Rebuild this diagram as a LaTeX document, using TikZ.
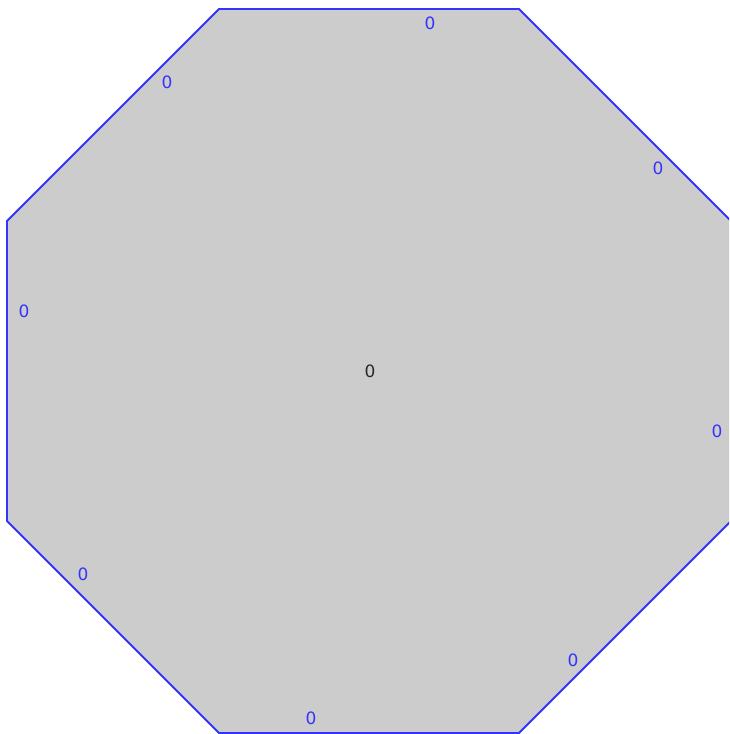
\documentclass[tikz,border=0pt]{standalone}
\usepackage{fontspec}
\setmainfont{DejaVu Sans}
\usepackage{tikz}
\usetikzlibrary{positioning, calc}

\definecolor{edgeblue}{RGB}{51,51,255}
\definecolor{facegray}{RGB}{204,204,204}
\definecolor{textdark}{RGB}{40,40,40}

\begin{document}
\begin{tikzpicture}[x=1pt, y=1pt,
    face/.style={fill=facegray, draw=edgeblue, line width=1.8pt, line join=miter},
    elabel/.style={text=edgeblue, font=\fontsize{17}{19}\selectfont, inner sep=0pt},
    clabel/.style={text=textdark, font=\fontsize{17}{19}\selectfont, inner sep=0pt},
]

% Frame (crops the right edge as in the figure)
\useasboundingbox (0,0) rectangle (729,734);

% Octagon corners
\coordinate (v1) at (219,725);
\coordinate (v2) at (519,725);
\coordinate (v3) at (731,513);
\coordinate (v4) at (731,213);
\coordinate (v5) at (519,1);
\coordinate (v6) at (219,1);
\coordinate (v7) at (7,213);
\coordinate (v8) at (7,513);

% --- Face
\begin{scope}
\clip (0,0) rectangle (729,734);
\draw[face] (v1) -- (v2) -- (v3) -- (v4) -- (v5) -- (v6) -- (v7) -- (v8) -- cycle;
\end{scope}

% --- Edge labels
\node[elabel] (eTop)   at (430,711) {0};
\node[elabel] (eTL)    at (167,652) {0};
\node[elabel] (eTR)    at (658,566) {0};
\node[elabel] (eLeft)  at (24,423)  {0};
\node[elabel] (eRight) at (717,303) {0};
\node[elabel] (eBL)    at (83,160)  {0};
\node[elabel] (eBR)    at (573,74)  {0};
\node[elabel] (eBot)   at (311,16)  {0};

% --- Face label
\node[clabel] (fCenter) at (370,363) {0};

\end{tikzpicture}
\end{document}
